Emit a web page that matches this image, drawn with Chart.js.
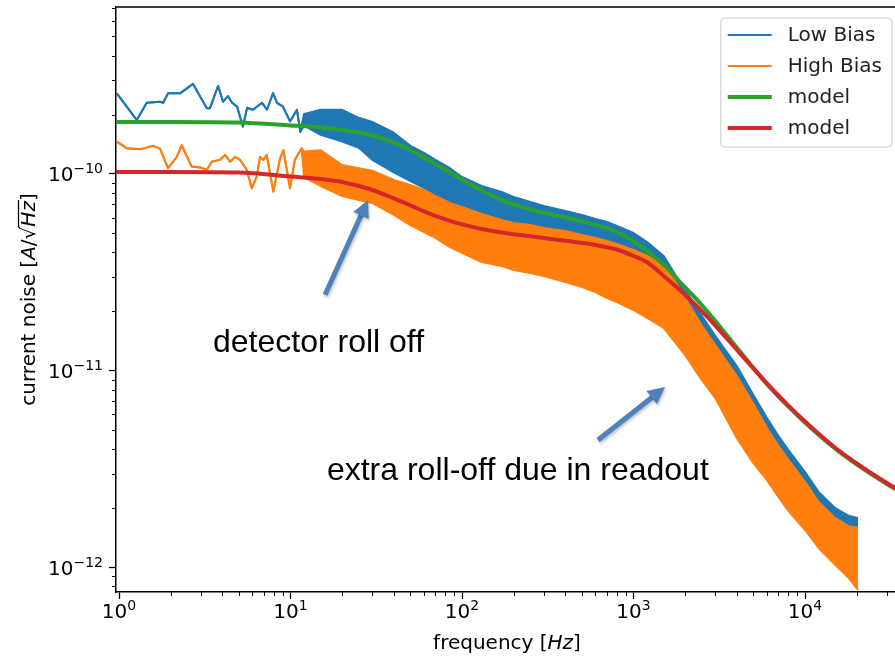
<!DOCTYPE html>
<html lang="en">
<head>
<meta charset="UTF-8">
<title>Current noise spectrum</title>
<style>
  html, body { margin: 0; padding: 0; overflow: hidden; background: #fff; }
  #wrap { position: relative; width: 898px; height: 658px; }
</style>
</head>
<body>
<div id="wrap"><canvas id="noiseChart"></canvas></div>
<script src="https://cdn.jsdelivr.net/npm/chart.js/dist/chart.umd.min.js"></script>
<script>
// noise values below are in units of 1e-10 A/sqrt(Hz)
const UNIT = 1e-10;

// below ~12 Hz both measurements are a single visible trace
const lowBiasFreq = [0.97, 1.27, 1.45, 1.73, 1.81, 1.93, 2.27, 2.70, 3.25, 3.39, 3.78, 4.04, 4.32,
  4.56, 4.88, 5.28, 5.58, 6.04, 6.82, 7.29, 7.91, 8.34, 9.04, 9.93, 10.9, 11.4];
const lowBiasVal = [2.57, 1.88, 2.30, 2.33, 2.30, 2.57, 2.57, 2.87, 2.16, 2.16, 2.80, 2.33, 2.49,
  2.30, 2.20, 1.74, 2.17, 2.12, 2.30, 2.12, 2.58, 2.30, 2.20, 1.85, 2.12, 1.64];

const highBiasFreq = [0.97, 1.11, 1.33, 1.58, 1.73, 1.93, 2.17, 2.32, 2.65, 2.97, 3.25, 3.47, 3.88,
  4.15, 4.44, 4.75, 5.08, 5.55, 5.94, 6.35, 6.64, 6.94, 7.26, 7.94, 8.69, 9.08, 9.93, 10.6, 11.6];
const highBiasVal = [1.46, 1.35, 1.335, 1.39, 1.35, 1.07, 1.22, 1.40, 1.09, 1.08, 1.05, 1.155, 1.18,
  1.25, 1.155, 1.22, 1.18, 1.05, 0.846, 0.969, 1.22, 1.18, 1.25, 0.813, 1.20, 1.32, 0.846, 1.18, 1.35];

// above ~12 Hz the traces are dense: top and bottom of the noise band
const bandFreq = [12, 15, 20, 25, 30, 40, 50, 60, 70, 85, 100, 130, 170, 200, 250, 300, 400, 500,
  600, 700, 800, 1000, 1200, 1500, 1800, 2000, 2500, 3000, 4000, 5000, 6000, 7000, 8000, 10000,
  12000, 15000, 18000, 20400];
const lowBiasUpper = [2.02, 2.12, 2.12, 1.93, 1.84, 1.62, 1.39, 1.28, 1.18, 1.07, 0.965, 0.869,
  0.810, 0.764, 0.721, 0.688, 0.648, 0.619, 0.590, 0.570, 0.544, 0.501, 0.451, 0.383, 0.296, 0.257,
  0.190, 0.150, 0.1056, 0.0752, 0.0575, 0.0466, 0.0395, 0.0305, 0.0242, 0.0200, 0.0183, 0.0178];
const lowBiasLower = [1.76, 1.58, 1.46, 1.36, 1.18, 1.02, 0.921, 0.849, 0.782, 0.712, 0.648, 0.570,
  0.532, 0.507, 0.484, 0.473, 0.451, 0.431, 0.411, 0.388, 0.365, 0.333, 0.296, 0.251, 0.216, 0.192,
  0.1466, 0.1188, 0.0836, 0.0602, 0.0466, 0.0386, 0.0328, 0.0253, 0.0205, 0.0170, 0.0155, 0.0151];
const highBiasUpper = [1.30, 1.32, 1.11, 1.07, 1.04, 0.932, 0.879, 0.829, 0.773, 0.712, 0.680, 0.626,
  0.584, 0.563, 0.550, 0.532, 0.513, 0.490, 0.473, 0.456, 0.441, 0.411, 0.383, 0.345, 0.273, 0.234,
  0.169, 0.135, 0.094, 0.0677, 0.0511, 0.0414, 0.0352, 0.0272, 0.0215, 0.0178, 0.0162, 0.0159];
const highBiasLower = [0.96, 0.869, 0.773, 0.738, 0.712, 0.619, 0.550, 0.507, 0.473, 0.425, 0.397,
  0.357, 0.341, 0.325, 0.314, 0.303, 0.282, 0.266, 0.251, 0.234, 0.2235, 0.2035, 0.1853, 0.1649,
  0.135, 0.120, 0.0897, 0.0726, 0.0455, 0.0339, 0.0278, 0.0228, 0.0194, 0.0155, 0.01255, 0.0103,
  0.00883, 0.00768];

// fitted models
const modelFreq = [0.95, 2, 5, 10, 15, 20, 30, 40, 50, 60, 70, 85, 100, 130, 170, 200, 250, 300, 400,
  500, 600, 700, 800, 1000, 1200, 1500, 1800, 2000, 2500, 3000, 4000, 5000, 6000, 7000, 8000, 10000,
  12000, 15000, 20000, 30000, 40000];
const modelLowBias = [1.838, 1.838, 1.827, 1.765, 1.723, 1.674, 1.569, 1.446, 1.324, 1.213, 1.122,
  1.018, 0.938, 0.824, 0.738, 0.700, 0.661, 0.635, 0.601, 0.575, 0.552, 0.530, 0.507, 0.4537, 0.406,
  0.345, 0.2925, 0.2649, 0.2158, 0.1790, 0.1312, 0.1032, 0.0853, 0.0739, 0.0657, 0.0545, 0.0473,
  0.0402, 0.0334, 0.02655, 0.02293];
const modelHighBias = [1.024, 1.024, 1.018, 0.971, 0.943, 0.911, 0.829, 0.751, 0.692, 0.645, 0.612,
  0.577, 0.554, 0.525, 0.504, 0.494, 0.482, 0.473, 0.4575, 0.446, 0.4355, 0.4244, 0.4132, 0.383,
  0.356, 0.303, 0.2639, 0.2425, 0.2009, 0.1695, 0.1278, 0.1028, 0.0863, 0.0748, 0.0665, 0.0552,
  0.0478, 0.0406, 0.0338, 0.02685, 0.0232];

const xMajorTicks = [1, 10, 100, 1000, 10000];
const yMajorTicks = [1e-12, 1e-11, 1e-10];
const xRange = [0.96, 34850];
const yRange = [7.5e-13, 7.06e-10];

// annotations, in data coordinates (Hz, units of 1e-10)
const notes = [
  { text: 'detector roll off', f: 3.53, v: 0.1245 },
  { text: 'extra roll-off due in readout', f: 16.3, v: 0.0278 }
];
const arrows = [
  { from: [15.9, 0.243], to: [28.3, 0.738] },
  { from: [621, 0.0444], to: [1527, 0.0826] }
];

const BLUE = '#1f77b4', ORANGE = '#ff7f0e', GREEN = '#2ca02c', RED = '#d62728';
const FONT = '"DejaVu Sans", Verdana, sans-serif';

function pts(fs, vs) {
  return fs.map((f, i) => ({ x: f, y: vs[i] * UNIT }));
}

const lowF = lowBiasFreq.concat(bandFreq);
const highF = highBiasFreq.concat(bandFreq);

const datasets = [
  { label: 'Low Bias', data: pts(lowF, lowBiasVal.concat(lowBiasUpper)), borderColor: BLUE,
    borderWidth: 2, order: 5 },
  { label: '', data: pts(lowF, lowBiasVal.concat(lowBiasLower)), borderColor: BLUE,
    backgroundColor: BLUE, fill: '-1', borderWidth: 2, order: 4 },
  { label: 'High Bias', data: pts(highF, highBiasVal.concat(highBiasUpper)), borderColor: ORANGE,
    borderWidth: 2, order: 3 },
  { label: '', data: pts(highF, highBiasVal.concat(highBiasLower)), borderColor: ORANGE,
    backgroundColor: ORANGE, fill: '-1', borderWidth: 2, order: 2 },
  { label: 'model', data: pts(modelFreq, modelLowBias), borderColor: GREEN, borderWidth: 4,
    cubicInterpolationMode: 'monotone', order: 1 },
  { label: 'model', data: pts(modelFreq, modelHighBias), borderColor: RED, borderWidth: 4,
    cubicInterpolationMode: 'monotone', order: 0 }
];

// "10" with a raised exponent, like matplotlib's log tick labels
function powWidth(ctx, exp) {
  ctx.font = '20px ' + FONT;
  const wb = ctx.measureText('10').width;
  ctx.font = '14px ' + FONT;
  return wb + ctx.measureText(exp).width;
}
function drawPow(ctx, exp, x, y) {
  ctx.textAlign = 'left';
  ctx.textBaseline = 'alphabetic';
  ctx.font = '20px ' + FONT;
  ctx.fillText('10', x, y);
  const wb = ctx.measureText('10').width;
  ctx.font = '14px ' + FONT;
  ctx.fillText(exp, x + wb, y - 8);
}
function expText(v) {
  return String(Math.round(Math.log10(v))).replace('-', '\u2212');
}

function drawPieces(ctx, pieces, x, y) {
  // pieces: [text, italic, overline]
  let cx = x;
  pieces.forEach(p => {
    ctx.font = (p[1] ? 'italic ' : '') + '20px ' + FONT;
    const w = ctx.measureText(p[0]).width;
    ctx.fillText(p[0], cx, y);
    if (p[2]) {
      ctx.save();
      ctx.lineWidth = 1.3;
      ctx.beginPath();
      ctx.moveTo(cx - 1, y - 16.5);
      ctx.lineTo(cx + w + 1, y - 16.5);
      ctx.stroke();
      ctx.restore();
    }
    cx += w;
  });
}
function piecesWidth(ctx, pieces) {
  return pieces.reduce((s, p) => {
    ctx.font = (p[1] ? 'italic ' : '') + '20px ' + FONT;
    return s + ctx.measureText(p[0]).width;
  }, 0);
}

function drawArrow(ctx, x1, y1, x2, y2) {
  const ang = Math.atan2(y2 - y1, x2 - x1);
  const headLen = 17, headW = 8.5;
  const c = Math.cos(ang), s = Math.sin(ang);
  const bx = x2 - headLen * c, by = y2 - headLen * s;
  ctx.save();
  ctx.shadowColor = 'rgba(0,0,0,0.25)';
  ctx.shadowBlur = 3;
  ctx.shadowOffsetX = 1;
  ctx.shadowOffsetY = 2;
  ctx.strokeStyle = '#4f81bd';
  ctx.fillStyle = '#4f81bd';
  ctx.lineWidth = 5;
  ctx.beginPath();
  ctx.moveTo(x1, y1);
  ctx.lineTo(bx + c, by + s);
  ctx.stroke();
  ctx.beginPath();
  ctx.moveTo(x2, y2);
  ctx.lineTo(bx - headW * s, by + headW * c);
  ctx.lineTo(bx + headW * s, by - headW * c);
  ctx.closePath();
  ctx.fill();
  ctx.restore();
}

const decor = {
  id: 'decor',
  afterDraw(chart) {
    const ctx = chart.ctx;
    const a = chart.chartArea;
    const xs = chart.scales.x, ys = chart.scales.y;
    ctx.save();
    ctx.fillStyle = '#000';
    ctx.strokeStyle = '#000';

    // top spine
    ctx.lineWidth = 1.5;
    ctx.beginPath();
    ctx.moveTo(a.left, a.top);
    ctx.lineTo(a.right, a.top);
    ctx.stroke();

    // minor ticks
    ctx.lineWidth = 1;
    for (let k = -1; k <= 5; k++) {
      for (let m = 2; m <= 9; m++) {
        const v = m * Math.pow(10, k);
        if (v < xs.min || v > xs.max) continue;
        const px = Math.round(xs.getPixelForValue(v)) + 0.5;
        ctx.beginPath();
        ctx.moveTo(px, a.bottom);
        ctx.lineTo(px, a.bottom + 4);
        ctx.stroke();
      }
    }
    for (let k = -13; k <= -9; k++) {
      for (let m = 2; m <= 9; m++) {
        const v = m * Math.pow(10, k);
        if (v < ys.min || v > ys.max) continue;
        const py = Math.round(ys.getPixelForValue(v)) + 0.5;
        ctx.beginPath();
        ctx.moveTo(a.left, py);
        ctx.lineTo(a.left - 4, py);
        ctx.stroke();
      }
    }

    // tick labels
    xMajorTicks.forEach(v => {
      const e = expText(v);
      const px = xs.getPixelForValue(v);
      drawPow(ctx, e, px - powWidth(ctx, e) / 2, a.bottom + 26);
    });
    yMajorTicks.forEach(v => {
      const e = expText(v);
      const py = ys.getPixelForValue(v);
      drawPow(ctx, e, a.left - 13 - powWidth(ctx, e), py + 7.5);
    });

    // axis titles
    ctx.textAlign = 'left';
    ctx.textBaseline = 'alphabetic';
    const xTitle = [['frequency [', false], ['Hz', true], [']', false]];
    drawPieces(ctx, xTitle, (a.left + a.right) / 2 - piecesWidth(ctx, xTitle) / 2, 649);
    const yTitle = [['current noise [', false], ['A', true], ['/', false], ['\u221a', false],
      ['Hz', true, true], [']', false]];
    ctx.save();
    ctx.translate(35, (a.top + a.bottom) / 2);
    ctx.rotate(-Math.PI / 2);
    drawPieces(ctx, yTitle, -piecesWidth(ctx, yTitle) / 2, 0);
    ctx.restore();

    // annotations
    ctx.font = '32px "Liberation Sans", Arial, sans-serif';
    ctx.fillStyle = '#000';
    notes.forEach(n => {
      ctx.fillText(n.text, xs.getPixelForValue(n.f), ys.getPixelForValue(n.v * UNIT));
    });
    arrows.forEach(ar => {
      drawArrow(ctx,
        xs.getPixelForValue(ar.from[0]), ys.getPixelForValue(ar.from[1] * UNIT),
        xs.getPixelForValue(ar.to[0]), ys.getPixelForValue(ar.to[1] * UNIT));
    });

    // legend box, upper right
    const entries = chart.data.datasets.filter(d => d.label);
    ctx.font = '20px ' + FONT;
    const textW = Math.max(...entries.map(d => ctx.measureText(d.label).width));
    const boxW = 7 + 44 + 16 + textW + 10;
    const boxH = 17 + 31 * (entries.length - 1) + 19;
    const bx = a.right - 6 - boxW, by = a.top + 11;
    ctx.beginPath();
    ctx.roundRect(bx, by, boxW, boxH, 4);
    ctx.fillStyle = 'rgba(255,255,255,0.85)';
    ctx.fill();
    ctx.strokeStyle = '#cccccc';
    ctx.lineWidth = 1;
    ctx.stroke();
    entries.forEach((d, i) => {
      const ry = by + 17 + 31 * i;
      ctx.strokeStyle = d.borderColor;
      ctx.lineWidth = d.borderWidth > 2 ? 4 : 2;
      ctx.beginPath();
      ctx.moveTo(bx + 7, ry);
      ctx.lineTo(bx + 51, ry);
      ctx.stroke();
      ctx.fillStyle = '#222';
      ctx.textBaseline = 'middle';
      ctx.fillText(d.label, bx + 67, ry + 1);
    });
    ctx.restore();
  }
};

new Chart(document.getElementById('noiseChart'), {
  type: 'line',
  data: { datasets },
  options: {
    responsive: true,
    maintainAspectRatio: false,
    animation: false,
    elements: { point: { radius: 0 }, line: { tension: 0, borderJoinStyle: 'round' } },
    layout: { padding: { top: 7, right: 0, bottom: 0, left: 0 } },
    plugins: { legend: { display: false }, tooltip: { enabled: false } },
    scales: {
      x: {
        type: 'logarithmic',
        min: xRange[0],
        max: xRange[1],
        afterBuildTicks: s => { s.ticks = xMajorTicks.map(v => ({ value: v })); },
        afterFit: s => { s.height = 66; },
        ticks: { display: false },
        grid: { drawOnChartArea: false, drawTicks: true, tickLength: 7, tickWidth: 1.3, tickColor: '#000' },
        border: { display: true, color: '#000', width: 1.5 }
      },
      y: {
        type: 'logarithmic',
        min: yRange[0],
        max: yRange[1],
        afterBuildTicks: s => { s.ticks = yMajorTicks.map(v => ({ value: v })); },
        afterFit: s => { s.width = 116; },
        ticks: { display: false },
        grid: { drawOnChartArea: false, drawTicks: true, tickLength: 7, tickWidth: 1.3, tickColor: '#000' },
        border: { display: true, color: '#000', width: 1.5 }
      }
    }
  },
  plugins: [decor]
});
</script>
</body>
</html>
